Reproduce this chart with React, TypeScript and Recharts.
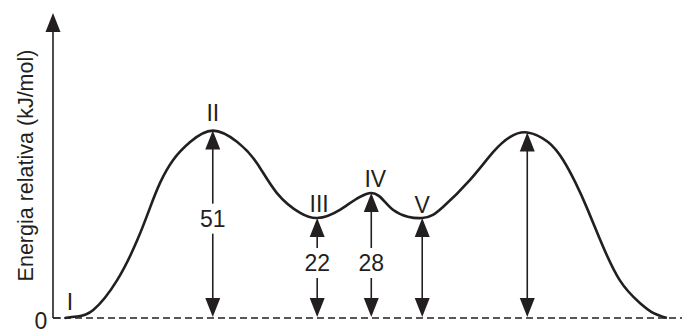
import { LineChart, Line, XAxis, YAxis, ReferenceLine, ReferenceDot } from 'recharts'

// reaction coordinate (arbitrary units) and relative energy along the drawn curve
const coord = [1.9, 3.8, 6.4, 10.2, 13.4, 15.4, 17.0, 19.1, 21.8, 25.4, 29.3, 32.4, 35.6, 39.3, 42.0, 45.6, 50.6, 54.1, 58.7, 62.0, 66.3, 70.0, 72.7, 75.4, 78.7, 81.1, 83.1, 84.9, 87.0, 90.1, 93.3, 95.4, 97.6]
const energy = [0, 0.4, 2.2, 10.3, 21.2, 29.9, 36.7, 43.0, 47.9, 51, 47.9, 42.2, 34.0, 28.6, 27.2, 29.4, 34.0, 29.4, 27.2, 30.2, 37.6, 45.2, 49.3, 50.5, 47.9, 43.0, 36.7, 29.9, 21.2, 10.3, 4.1, 1.4, 0]

// labelled stationary points
const stateNames = ['I', 'II', 'III', 'IV', 'V']
const stateCoord = [1.9, 25.4, 42.0, 50.6, 58.7]
const stateEnergy = [0, 51, 27.2, 34.0, 27.2]

// double arrows from the zero line
const arrowCoord = [25.4, 42.0, 50.6, 58.7, 75.4]
const arrowEnergy = [51, 27.2, 34.0, 27.2, 50.5]
const arrowLabels = ['51', '22', '28', '', '']

const INK = '#231f20'
const FONT = '"Liberation Sans", Arial, Helvetica, sans-serif'

// where each state name sits relative to its point (dx, lift above)
const stateOffsets = [
  [5, 8],
  [0, 10],
  [2, 6],
  [4, 6],
  [0, 5],
]
// vertical position of the arrow label, as a fraction of arrow length from the bottom
const labelFrac = [0.53, 0.55, 0.44, 0, 0]

const data = coord.map((c, i) => ({ coord: c, energy: energy[i] }))

function head(x: number, tipY: number, dir: number) {
  // dir = -1 points up, 1 points down
  const len = 19
  const hw = 7.5
  const baseY = tipY - dir * len
  return <polygon points={`${x},${tipY} ${x - hw},${baseY} ${x + hw},${baseY}`} fill={INK} />
}

function DoubleArrow(props: any) {
  const { x1, y1, x2, y2, label, frac } = props
  const x = x1
  const bottom = Math.max(y1, y2)
  const top = Math.min(y1, y2)
  const len = bottom - top
  if (!label) {
    return (
      <g>
        <line x1={x} y1={bottom - 10} x2={x} y2={top + 10} stroke={INK} strokeWidth={1.6} />
        {head(x, top, -1)}
        {head(x, bottom - 1, 1)}
      </g>
    )
  }
  const cy = bottom - len * frac
  const gap = 15
  return (
    <g>
      <line x1={x} y1={top + 10} x2={x} y2={cy - gap} stroke={INK} strokeWidth={1.6} />
      <line x1={x} y1={cy + gap} x2={x} y2={bottom - 10} stroke={INK} strokeWidth={1.6} />
      {head(x, top, -1)}
      {head(x, bottom - 1, 1)}
      <text x={x} y={cy} dy="0.36em" textAnchor="middle" fontSize={23} fontFamily={FONT} fill={INK}>
        {label}
      </text>
    </g>
  )
}

function EnergyAxis(props: any) {
  const { x1, y1, y2 } = props
  const bottom = Math.max(y1, y2)
  const top = Math.min(y1, y2)
  const mid = (bottom + top) / 2
  return (
    <g>
      <line x1={x1} y1={bottom} x2={x1} y2={top + 12} stroke={INK} strokeWidth={1.6} />
      <polygon points={`${x1},${top} ${x1 - 7.5},${top + 19} ${x1 + 7.5},${top + 19}`} fill={INK} />
      <line x1={x1} y1={bottom} x2={x1 + 8} y2={bottom} stroke={INK} strokeWidth={1.3} />
      <text
        x={x1 - 28}
        y={mid}
        dy="0.36em"
        textAnchor="middle"
        fontSize={21.5}
        fontFamily={FONT}
        fill={INK}
        transform={`rotate(-90, ${x1 - 28}, ${mid})`}
      >
        Energia relativa (kJ/mol)
      </text>
      <text x={x1 - 12} y={bottom + 11} textAnchor="middle" fontSize={23} fontFamily={FONT} fill={INK}>
        0
      </text>
    </g>
  )
}

export default function App() {
  return (
    <div style={{ position: 'absolute', left: 0, top: 0, width: 682, height: 335, background: '#fff' }}>
      <LineChart width={682} height={335} data={data} margin={{ top: 13, right: 0, bottom: 17, left: 53 }}>
        <XAxis dataKey="coord" type="number" domain={[0, 100]} hide />
        <YAxis type="number" domain={[0, 83]} hide />
        <ReferenceLine y={0} stroke={INK} strokeWidth={1.3} strokeDasharray="7 4" ifOverflow="visible" />
        <ReferenceLine
          segment={[{ x: 0, y: 0 }, { x: 0, y: 83 }]}
          ifOverflow="visible"
          shape={(p: any) => <EnergyAxis {...p} />}
        />
        {arrowCoord.map((c, i) => (
          <ReferenceLine
            key={`arrow-${i}`}
            segment={[{ x: c, y: 0 }, { x: c, y: arrowEnergy[i] }]}
            ifOverflow="visible"
            shape={(p: any) => <DoubleArrow {...p} label={arrowLabels[i]} frac={labelFrac[i]} />}
          />
        ))}
        <Line
          dataKey="energy"
          type="natural"
          dot={false}
          stroke={INK}
          strokeWidth={2.6}
          isAnimationActive={false}
        />
        {stateNames.map((name, i) => (
          <ReferenceDot
            key={`state-${i}`}
            x={stateCoord[i]}
            y={stateEnergy[i]}
            r={0}
            ifOverflow="visible"
            shape={(p: any) => (
              <text
                x={p.cx + stateOffsets[i][0]}
                y={p.cy - stateOffsets[i][1]}
                textAnchor="middle"
                fontSize={23}
                fontFamily={FONT}
                fill={INK}
              >
                {name}
              </text>
            )}
          />
        ))}
      </LineChart>
    </div>
  )
}
